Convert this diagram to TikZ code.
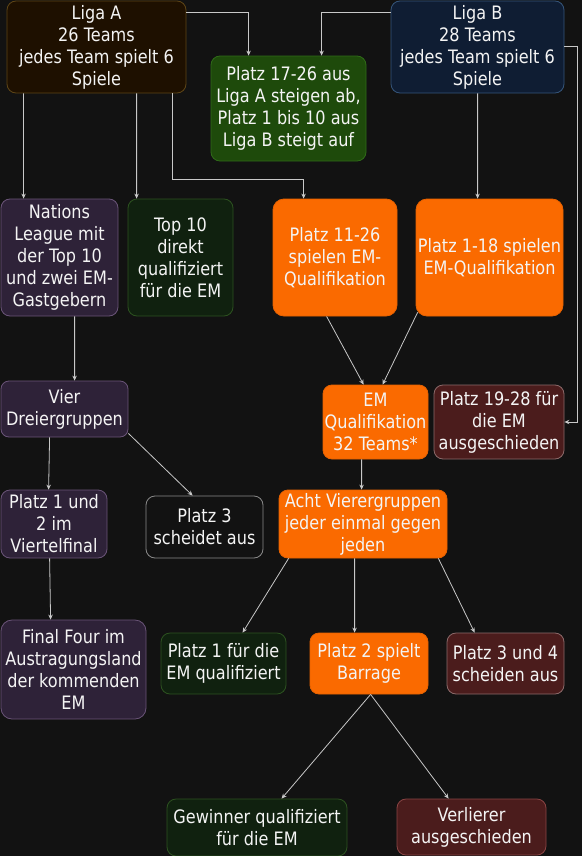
\documentclass[tikz,border=0pt]{standalone}
\usepackage{fontspec}
\setmainfont{DejaVu Sans}[FakeStretch=0.87]
\usetikzlibrary{calc,arrows.meta}
\definecolor{bgc}{HTML}{121212}
\definecolor{txtc}{HTML}{F4F4F4}
\definecolor{arrc}{HTML}{C8C8C8}
\definecolor{laf}{HTML}{1E1000}\definecolor{lad}{HTML}{5E4516}
\definecolor{lbf}{HTML}{0F1D33}\definecolor{lbd}{HTML}{35557A}
\definecolor{ggf}{HTML}{1E4A0B}\definecolor{ggd}{HTML}{2F6B18}
\definecolor{dgf}{HTML}{10210F}\definecolor{dgd}{HTML}{2D5220}
\definecolor{ppf}{HTML}{2E2238}\definecolor{ppd}{HTML}{6A5478}
\definecolor{orf}{HTML}{FA6A00}\definecolor{ord}{HTML}{E86200}
\definecolor{drf}{HTML}{4B1C1C}\definecolor{drd}{HTML}{8C6A6A}
\definecolor{vrd}{HTML}{8A4444}
\definecolor{kbd}{HTML}{8A8A8A}
\begin{document}
\begin{tikzpicture}[x=1bp,y=-1bp,
  box/.style={rounded corners=9bp, line width=0.8bp, align=center, text=txtc, inner sep=0pt,
    font=\fontsize{18.5bp}{22bp}\selectfont},
  labox/.style={box, fill=laf, draw=lad},
  lbbox/.style={box, fill=lbf, draw=lbd},
  ggbox/.style={box, fill=ggf, draw=ggd},
  dgbox/.style={box, fill=dgf, draw=dgd},
  ppbox/.style={box, fill=ppf, draw=ppd},
  orbox/.style={box, fill=orf, draw=ord, rounded corners=11bp},
  drbox/.style={box, fill=drf, draw=drd},
  kbox/.style={box, fill=bgc, draw=kbd},
  arr/.style={draw=arrc, line width=0.8bp, -{Stealth[length=5bp,width=4.5bp]}}]
\fill[bgc] (0,0) rectangle (582,856);
\useasboundingbox (0,0) rectangle (582,856);

\node[labox, minimum width=179bp, minimum height=92bp] (ligaA) at (96.5,47) {Liga A\\26 Teams\\jedes Team spielt 6\\Spiele};
\node[lbbox, minimum width=173bp, minimum height=92bp] (ligaB) at (477.5,47) {Liga B\\28 Teams\\jedes Team spielt 6\\Spiele};
\node[ggbox, minimum width=155bp, minimum height=105bp] (p17) at (288.5,108.5) {Platz 17-26 aus\\Liga A steigen ab,\\Platz 1 bis 10 aus\\Liga B steigt auf};
\node[ppbox, minimum width=117bp, minimum height=117bp] (nations) at (59.5,257.5) {Nations\\League mit\\der Top 10\\und zwei EM-\\Gastgebern};
\node[dgbox, minimum width=105bp, minimum height=117bp] (top10) at (180.5,257.5) {Top 10\\direkt\\qualifiziert\\für die EM};
\node[orbox, minimum width=124bp, minimum height=117bp] (p1126) at (335,257.5) {Platz 11-26\\spielen EM-\\Qualifikation};
\node[orbox, minimum width=147bp, minimum height=117bp] (p118) at (489.5,257.5) {Platz 1-18 spielen\\EM-Qualifikation};
\node[orbox, rounded corners=9bp, minimum width=105bp, minimum height=74bp] (emq) at (375.5,422) {EM\\Qualifikation\\32 Teams*};
\node[drbox, minimum width=130bp, minimum height=74bp] (p1928) at (499,422) {Platz 19-28 für\\die EM\\ausgeschieden};
\node[ppbox, rounded corners=8bp, minimum width=127bp, minimum height=56bp] (vier) at (64.5,409) {Vier\\Dreiergruppen};
\node[ppbox, minimum width=106bp, minimum height=68bp] (p12) at (54,524) {Platz 1 und\\2 im\\Viertelfinal};
\node[kbox, minimum width=117bp, minimum height=62bp] (p3) at (204.5,527) {Platz 3\\scheidet aus};
\node[orbox, rounded corners=9bp, minimum width=168bp, minimum height=68bp] (acht) at (363,524) {Acht Vierergruppen\\jeder einmal gegen\\jeden};
\node[ppbox, rounded corners=11bp, minimum width=145bp, minimum height=99bp] (final) at (73.5,669.5) {Final Four im\\Austragungsland\\der kommenden\\EM};
\node[dgbox, minimum width=125bp, minimum height=61bp] (p1) at (223.5,663.5) {Platz 1 für die\\EM qualifiziert};
\node[orbox, rounded corners=9bp, minimum width=118bp, minimum height=61bp] (p2) at (369,663.5) {Platz 2 spielt\\Barrage};
\node[drbox, minimum width=117bp, minimum height=61bp] (p34) at (505.5,663.5) {Platz 3 und 4\\scheiden aus};
\node[dgbox, minimum width=180bp, minimum height=57bp] (gew) at (257,827.5) {Gewinner qualifiziert\\für die EM};
\node[drbox, draw=vrd, minimum width=149bp, minimum height=56bp] (verl) at (471.5,827) {Verlierer\\ausgeschieden};

% connectors
\draw[arr] ($(ligaA.north east)+(0,12)$) -| ($(p17.north west)+(38,0)$);
\draw[arr] ($(ligaB.north west)+(0,12)$) -| ($(p17.north west)+(111,0)$);
\draw[arr] ($(ligaA.south west)+(17,0)$) -- ($(nations.north west)+(23,0)$);
\draw[arr] ($(ligaA.south west)+(130,0)$) -- ($(top10.north west)+(9,0)$);
\coordinate (a5) at ($(ligaA.south west)+(166,0)$);
\coordinate (b5) at ($(p1126.north west)+(31,0)$);
\draw[arr] (a5) |- ($(b5)+(0,-19)$) -- (b5);
\draw[arr] ($(ligaB.south west)+(87,0)$) -- ($(p118.north west)+(62,0)$);
\draw[arr] ($(ligaB.north east)+(0,46)$) -| ($(p1928.east)+(13,0)$) -- (p1928.east);
\draw[arr] ($(nations.south west)+(74,0)$) -- ($(vier.north west)+(74,0)$);
\draw[arr] ($(p1126.south west)+(54,0)$) -- ($(emq.north west)+(41,0)$);
\draw[arr] ($(p118.south west)+(2,-4)$) -- ($(emq.north west)+(60,0)$);
\draw[arr] ($(vier.south west)+(49,0)$) -- ($(p12.north west)+(48,0)$);
\draw[arr] ($(vier.south east)+(0,-4)$) -- ($(p3.north west)+(47,0)$);
\draw[arr] ($(emq.south west)+(39,0)$) -- ($(acht.north west)+(83,0)$);
\draw[arr] ($(p12.south west)+(49,0)$) -- ($(final.north west)+(50,0)$);
\draw[arr] ($(acht.south west)+(10,0)$) -- ($(p1.north west)+(82,0)$);
\draw[arr] ($(acht.south west)+(76,0)$) -- ($(p2.north west)+(45,0)$);
\draw[arr] ($(acht.south east)+(-9,0)$) -- ($(p34.north west)+(28,0)$);
\draw[arr] ($(p2.south west)+(61,0)$) -- ($(gew.north west)+(115,0)$);
\draw[arr] ($(p2.south west)+(61,0)$) -- ($(verl.north west)+(52,0)$);
\end{tikzpicture}
\end{document}
